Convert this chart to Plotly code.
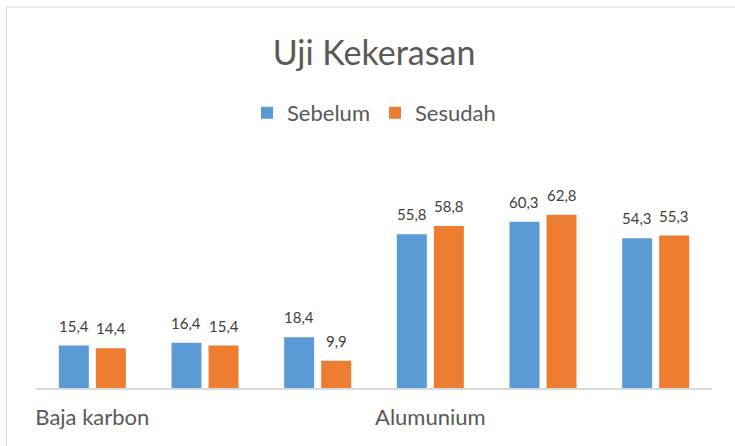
import plotly.graph_objects as go

# ---- data ----
categories = ["Baja karbon", "", "", "Alumunium", "", ""]
series_names = ["Sebelum", "Sesudah"]
sebelum = [15.4, 16.4, 18.4, 55.8, 60.3, 54.3]
sesudah = [14.4, 15.4, 9.9, 58.8, 62.8, 55.3]
tick_positions = [0, 3]
tick_labels = ["Baja karbon", "Alumunium"]
colors = ["#5B9BD5", "#ED7D31"]

W, H = 735, 446
ML, MR, MT, MB = 36, 23, 195, 58
PW, PH = W - ML - MR, H - MT - MB
FONT = "Lato"
BARGAP, BARGROUPGAP = 0.343, 0.19

x = list(range(len(categories)))
fig = go.Figure()
for name, vals, col in zip(series_names, [sebelum, sesudah], colors):
    fig.add_trace(go.Bar(x=x, y=vals, name=name, marker=dict(color=col, line=dict(width=0))))

# data labels
annotations = []
for j, vals in enumerate([sebelum, sesudah]):
    off = (j - 0.5) * (1 - BARGAP) / 2
    for i, v in enumerate(vals):
        annotations.append(dict(
            x=i + off, y=v, xref="x", yref="y", text=f"{v:.1f}".replace(".", ","),
            showarrow=False, yanchor="bottom", yshift=9,
            font=dict(family=FONT, size=15, color="#404040")))

def px_x(p):
    return (p - ML) / PW

def px_y(p):
    return (H - MB - p) / PH

shapes = [
    dict(type="line", xref="paper", yref="paper", x0=px_x(6.5), x1=px_x(740),
         y0=px_y(7), y1=px_y(7), line=dict(color="#D9D9D9", width=1)),
    dict(type="line", xref="paper", yref="paper", x0=px_x(6.5), x1=px_x(6.5),
         y0=px_y(7), y1=px_y(450), line=dict(color="#D9D9D9", width=1)),
]

fig.update_layout(
    width=W, height=H,
    margin=dict(l=ML, r=MR, t=MT, b=MB),
    paper_bgcolor="white", plot_bgcolor="white",
    barmode="group", bargap=BARGAP, bargroupgap=BARGROUPGAP,
    title=dict(text="Uji Kekerasan", x=0.5, xref="paper", xanchor="center",
               y=1 - 53 / H, yanchor="middle",
               font=dict(family=FONT, size=34, color="#595959")),
    legend=dict(orientation="h", x=px_x(374), xanchor="center", y=px_y(113), yanchor="middle",
                font=dict(family=FONT, size=22, color="#595959"), bgcolor="rgba(0,0,0,0)"),
    xaxis=dict(tickvals=tick_positions, ticktext=tick_labels, range=[-0.5, 5.5],
               showline=True, linecolor="#D9D9D9", linewidth=2, showgrid=False,
               zeroline=False, ticks="", ticklabelstandoff=9,
               tickfont=dict(family=FONT, size=22, color="#595959")),
    yaxis=dict(visible=False, range=[0, 70], showgrid=False, zeroline=False),
    annotations=annotations, shapes=shapes,
    font=dict(family=FONT),
    showlegend=True,
)

fig.write_html("out.html", config={"displayModeBar": False},
               post_script="document.body.style.margin='0px';")
